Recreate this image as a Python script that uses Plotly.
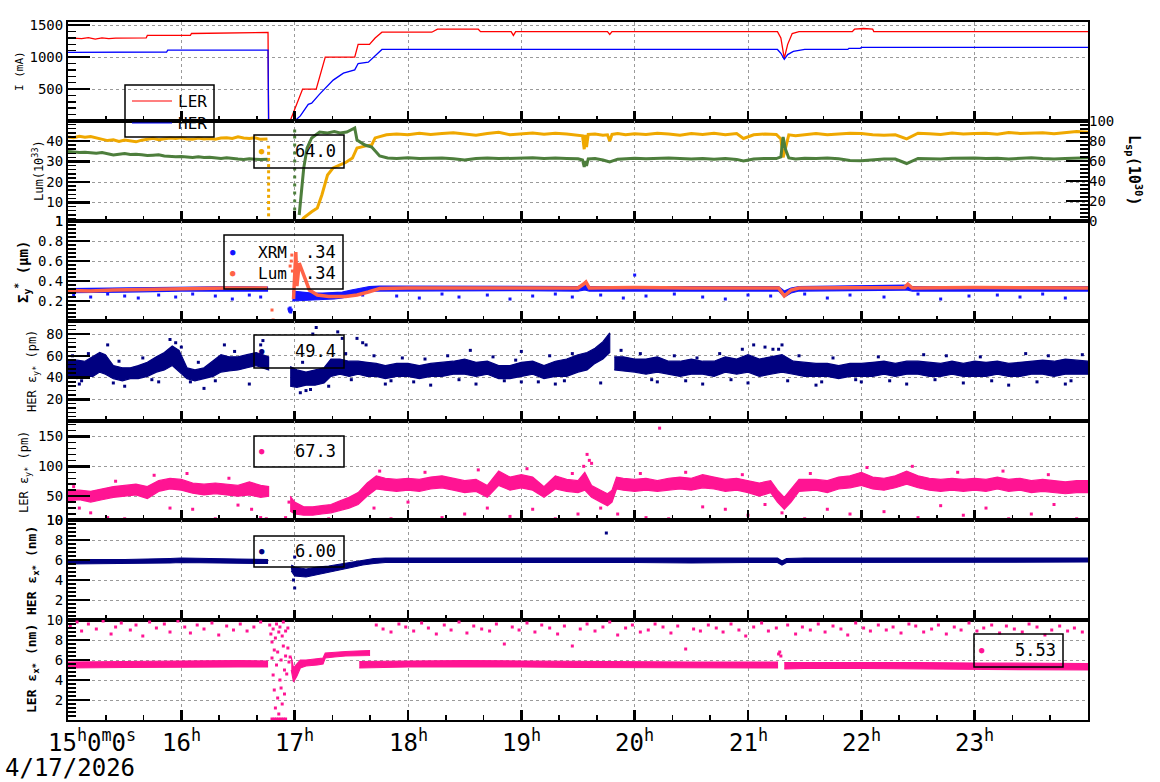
import numpy as np
import plotly.graph_objects as go

FONT = "DejaVu Sans Mono"

# ---------------- data ----------------
HOURS = [15, 16, 17, 18, 19, 20, 21, 22, 23, 24]
HOUR_LABELS = ["15<sup>h</sup>0<sup>m</sup>0<sup>s</sup>", "16<sup>h</sup>", "17<sup>h</sup>", "18<sup>h</sup>",
               "19<sup>h</sup>", "20<sup>h</sup>", "21<sup>h</sup>", "22<sup>h</sup>", "23<sup>h</sup>"]
DATE_LABEL = "4/17/2026"

# Panel 1: beam currents (mA)
ler_t = [15.00, 15.06, 15.12, 15.18, 15.24, 15.30, 15.36, 15.42, 15.50, 15.69,
         15.70, 16.08, 16.09, 16.58, 16.59, 16.765, 16.77, 16.96, 17.07, 17.19,
         17.27, 17.53, 17.56, 17.66, 17.71, 17.77, 18.21, 18.26, 18.62, 18.64,
         18.91, 18.93, 18.95, 19.76, 19.78, 19.80, 21.26, 21.29, 21.32, 21.35,
         21.39, 21.45, 21.92, 21.94, 22.02, 22.10, 22.11, 24.00]
ler_mA = [1300, 1295, 1290, 1305, 1282, 1300, 1290, 1298, 1300, 1300,
          1340, 1340, 1370, 1375, 1386, 1386, 0, 0, 500, 500,
          1000, 1000, 1200, 1200, 1300, 1390, 1390, 1437, 1437, 1400,
          1400, 1340, 1400, 1400, 1355, 1400, 1400, 1300, 980, 1200,
          1370, 1400, 1400, 1437, 1448, 1437, 1400, 1400]
her_t = [15.00, 15.79, 15.80, 15.87, 15.88, 16.765, 16.77, 17.00, 17.05, 17.12,
         17.15, 17.22, 17.34, 17.43, 17.53, 17.56, 17.65, 17.71, 17.77, 21.26,
         21.29, 21.32, 21.35, 21.40, 21.50, 21.88, 21.89, 21.99, 22.00, 24.00]
her_mA = [1073, 1073, 1080, 1080, 1109, 1109, 0, 0, 80, 260,
          280, 420, 640, 750, 800, 900, 920, 1020, 1120, 1120,
          1060, 965, 1040, 1090, 1120, 1120, 1136, 1136, 1152, 1152]

# Panel 2: luminosity (1e33) and specific luminosity (1e30)
lum_t = [15.00, 15.05, 15.10, 15.15, 15.20, 15.25, 15.30, 15.35, 15.40, 15.45,
         15.50, 15.55, 15.60, 15.65, 15.70, 15.75, 15.80, 15.85, 15.90, 15.95,
         16.00, 16.05, 16.10, 16.15, 16.20, 16.25, 16.30, 16.35, 16.40, 16.45,
         16.50, 16.55, 16.60, 16.65, 16.70, 16.76, None, 16.77, 17.06, 17.08,
         17.11, 17.15, 17.20, 17.24, 17.29, 17.34, 17.40, 17.45, 17.51, 17.55,
         17.62, 17.68, 17.71, 17.75, 17.81, 17.90, 18.00, 18.10, 18.20, 18.30,
         18.40, 18.50, 18.60, 18.70, 18.80, 18.90, 19.00, 19.10, 19.20, 19.30,
         19.40, 19.50, 19.54, 19.555, 19.565, 19.575, 19.59, 19.65, 19.72, 19.76,
         19.78, 19.80, 19.85, 19.92, 20.00, 20.10, 20.20, 20.30, 20.40, 20.50,
         20.60, 20.70, 20.80, 20.90, 20.96, 21.05, 21.15, 21.25, 21.29, 21.31,
         21.33, 21.36, 21.42, 21.50, 21.60, 21.70, 21.80, 21.90, 22.00, 22.10,
         22.20, 22.30, 22.40, 22.50, 22.60, 22.70, 22.80, 22.90, 23.00, 23.10,
         23.20, 23.30, 23.40, 23.50, 23.60, 23.70, 23.80, 23.90, 24.00]
lum_v = [42.0, 41.6, 42.3, 41.8, 42.2, 41.5, 41.0, 40.2, 40.6, 39.8,
         40.5, 40.0, 39.6, 40.4, 40.8, 41.3, 40.6, 41.0, 41.5, 41.2,
         41.6, 41.0, 40.8, 41.4, 41.0, 41.2, 40.9, 41.5, 41.6, 41.2,
         42.0, 41.5, 41.2, 41.6, 40.8, 41.0, None, 1.0, 1.0, 2.5,
         3.9, 5.5, 7.3, 13.7, 23.4, 26.9, 28.3, 29.5, 31.7, 36.6,
         37.5, 38.1, 41.5, 42.2, 43.0, 43.4, 43.0, 43.8, 43.2, 43.6,
         44.0, 43.4, 42.8, 43.6, 44.2, 43.0, 43.5, 43.9, 43.3, 43.8,
         43.4, 43.0, 42.5, 36.0, 43.0, 37.0, 43.2, 43.4, 42.8, 43.0,
         40.0, 43.2, 43.6, 43.0, 43.5, 43.2, 43.8, 43.4, 42.8, 43.6,
         43.2, 43.8, 43.0, 43.6, 41.2, 43.0, 43.4, 43.2, 41.0, 32.0,
         36.0, 43.0, 42.6, 43.2, 43.6, 43.0, 43.4, 43.8, 43.6, 43.0,
         42.8, 43.0, 41.0, 43.8, 43.5, 43.2, 43.9, 43.4, 43.6, 43.8,
         43.3, 44.1, 43.7, 43.9, 44.0, 43.5, 44.2, 44.6, 44.3]
lum_drop_t = [16.77] * 12
lum_drop_v = [37, 34, 31, 28, 25, 22, 19, 16, 13, 10, 7, 4]

lsp_t = [15.00, 15.05, 15.10, 15.15, 15.20, 15.25, 15.30, 15.35, 15.40, 15.45,
         15.50, 15.55, 15.60, 15.65, 15.70, 15.75, 15.80, 15.85, 15.90, 15.95,
         16.00, 16.05, 16.10, 16.15, 16.20, 16.25, 16.30, 16.35, 16.40, 16.45,
         16.50, 16.55, 16.60, 16.65, 16.70, 16.76, None, 16.77, 17.00, None,
         17.04, 17.08, 17.11, 17.15, 17.22, 17.29, 17.35, 17.40, 17.46, 17.51,
         17.53, 17.55, 17.62, 17.68, 17.75, 17.82, 17.90, 18.00, 18.10, 18.20,
         18.30, 18.40, 18.50, 18.60, 18.70, 18.80, 18.90, 19.00, 19.10, 19.20,
         19.30, 19.40, 19.50, 19.54, 19.555, 19.565, 19.575, 19.59, 19.65, 19.72,
         19.78, 19.85, 19.92, 20.00, 20.10, 20.20, 20.30, 20.40, 20.50, 20.60,
         20.70, 20.80, 20.90, 20.96, 21.05, 21.15, 21.25, 21.29, 21.31, 21.33,
         21.36, 21.42, 21.50, 21.60, 21.70, 21.80, 21.90, 22.00, 22.10, 22.20,
         22.30, 22.40, 22.50, 22.60, 22.70, 22.80, 22.90, 23.00, 23.10, 23.20,
         23.30, 23.40, 23.50, 23.60, 23.70, 23.80, 23.90, 24.00]
lsp_v = [69.5, 69.0, 68.6, 68.8, 68.2, 67.8, 68.4, 67.0, 66.0, 66.8,
         67.4, 66.5, 66.8, 66.2, 65.4, 65.8, 66.2, 65.0, 64.6, 64.2,
         64.6, 64.0, 63.6, 64.2, 63.4, 63.8, 63.0, 62.6, 63.2, 62.4,
         62.0, 61.6, 62.2, 61.8, 61.4, 61.8, None, 0.5, 0.5, None,
         6.0, 53.0, 73.0, 83.0, 89.0, 88.0, 89.5, 88.0, 89.0, 92.0,
         93.0, 81.0, 76.0, 74.0, 65.0, 63.0, 62.6, 63.2, 62.4, 62.8,
         63.0, 62.2, 61.0, 62.6, 63.0, 62.4, 62.8, 62.6, 63.2, 62.4,
         63.0, 62.6, 62.2, 61.0, 54.0, 60.0, 55.0, 62.0, 62.4, 61.0,
         59.0, 61.8, 62.4, 62.8, 62.2, 62.6, 63.0, 62.4, 62.0, 62.6,
         61.8, 62.4, 61.6, 60.0, 62.0, 62.6, 62.4, 64.0, 84.0, 72.0,
         63.0, 62.0, 62.8, 62.4, 63.0, 62.2, 60.5, 60.2, 61.4, 62.0,
         62.0, 57.5, 62.6, 62.4, 62.0, 62.8, 63.2, 63.0, 62.4, 62.8,
         62.0, 62.6, 63.2, 62.4, 62.0, 62.6, 63.0, 63.2]
lsp_rise_t = [17.0] * 12
lsp_rise_v = [5, 12, 20, 28, 36, 44, 52, 60, 68, 76, 84, 90]

# Panel 3: vertical beam size (um)
xrm_t = [15.00, 15.50, 16.00, 16.50, 16.76, None, 16.98, 17.05, 17.15, 17.25,
         17.35, 17.42, 17.50, 17.58, 17.66, 17.75, 18.00, 18.50, 19.00, 19.50,
         19.56, 19.60, 20.00, 20.50, 21.00, 21.27, 21.32, 21.38, 21.45, 22.00,
         22.40, 22.45, 23.00, 23.50, 24.00]
xrm_lo = [0.285, 0.29, 0.30, 0.30, 0.30, None, 0.20, 0.20, 0.21, 0.215,
          0.22, 0.23, 0.25, 0.28, 0.30, 0.30, 0.305, 0.305, 0.305, 0.30,
          0.31, 0.30, 0.30, 0.305, 0.30, 0.30, 0.24, 0.28, 0.30, 0.305,
          0.31, 0.30, 0.30, 0.30, 0.30]
xrm_hi = [0.325, 0.33, 0.34, 0.345, 0.34, None, 0.30, 0.29, 0.28, 0.28,
          0.285, 0.29, 0.31, 0.33, 0.345, 0.35, 0.35, 0.345, 0.35, 0.345,
          0.37, 0.345, 0.345, 0.345, 0.345, 0.345, 0.30, 0.33, 0.345, 0.35,
          0.36, 0.345, 0.345, 0.345, 0.345]
xrm_out_t = [15.05, 15.20, 15.35, 15.50, 15.62, 15.80, 15.95, 16.10, 16.30, 16.45,
             16.60, 16.70, 16.95, 16.955, 16.96, 16.965, 16.97, 17.60, 17.90, 18.10,
             18.30, 18.45, 18.70, 18.90, 19.10, 19.30, 19.45, 19.70, 19.90, 20.00,
             20.10, 20.35, 20.60, 20.80, 21.00, 21.20, 21.50, 21.70, 21.90, 22.20,
             22.50, 22.70, 22.95, 23.20, 23.40, 23.60, 23.80]
xrm_out_v = [0.26, 0.24, 0.27, 0.25, 0.23, 0.26, 0.24, 0.27, 0.25, 0.22,
             0.26, 0.24, 0.12, 0.10, 0.13, 0.09, 0.11, 0.26, 0.25, 0.23,
             0.27, 0.24, 0.26, 0.22, 0.25, 0.27, 0.24, 0.26, 0.23, 0.46,
             0.25, 0.27, 0.24, 0.22, 0.26, 0.25, 0.27, 0.23, 0.26, 0.24,
             0.27, 0.22, 0.25, 0.26, 0.24, 0.27, 0.23]
lums_t = [15.00, 15.20, 15.40, 15.60, 15.80, 16.00, 16.20, 16.40, 16.60, 16.76,
          None, 16.99, 17.00, 17.005, 17.01, 17.02, 17.04, 17.07, 17.10, 17.13,
          17.20, 17.30, 17.45, 17.55, 17.65, 17.75, 18.00, 18.50, 19.00, 19.50,
          19.55, 19.57, 19.60, 20.00, 20.50, 21.00, 21.27, 21.32, 21.38, 21.45,
          22.00, 22.38, 22.41, 22.45, 23.00, 23.50, 24.00]
lums_v = [0.305, 0.30, 0.31, 0.315, 0.32, 0.325, 0.325, 0.33, 0.33, 0.33,
          None, 0.22, 0.45, 0.62, 0.69, 0.35, 0.58, 0.49, 0.39, 0.31,
          0.26, 0.245, 0.245, 0.26, 0.29, 0.325, 0.33, 0.33, 0.335, 0.33,
          0.37, 0.39, 0.33, 0.335, 0.33, 0.335, 0.33, 0.25, 0.31, 0.33,
          0.335, 0.335, 0.37, 0.33, 0.335, 0.33, 0.33]
lums_out_t = [16.80, 16.81, 16.96, 16.97, 16.975, 16.98, 17.03]
lums_out_v = [0.11, 0.01, 0.55, 0.60, 0.66, 0.50, 0.52]

# Panel 4: HER vertical emittance (pm): dense band envelope
hey_t = [15.00, 15.08, 15.15, 15.22, 15.28, 15.33, 15.40, 15.48, 15.55, 15.62,
         15.70, 15.78, 15.85, 15.92, 15.98, 16.05, 16.12, 16.20, 16.28, 16.35,
         16.42, 16.50, 16.58, 16.66, 16.72, 16.77, None, 16.96, 17.02, 17.10,
         17.18, 17.26, 17.32, 17.40, 17.48, 17.56, 17.64, 17.72, 17.80, 17.90,
         18.00, 18.10, 18.20, 18.30, 18.40, 18.50, 18.60, 18.70, 18.80, 18.90,
         19.00, 19.10, 19.20, 19.30, 19.40, 19.50, 19.58, 19.65, 19.72, 19.78,
         None, 19.82, 19.90, 20.00, 20.10, 20.20, 20.30, 20.40, 20.50, 20.60,
         20.70, 20.80, 20.90, 21.00, 21.10, 21.20, 21.30, 21.40, 21.50, 21.60,
         21.70, 21.80, 21.90, 22.00, 22.10, 22.20, 22.30, 22.40, 22.50, 22.60,
         22.70, 22.80, 22.90, 23.00, 23.10, 23.20, 23.30, 23.40, 23.50, 23.60,
         23.70, 23.80, 23.90, 24.00]
hey_lo = [40, 39, 41, 41, 45, 43, 39, 37, 39, 39,
          41, 45, 47, 51, 45, 39, 37, 39, 41, 45,
          46, 47, 49, 51, 49, 47, None, 32, 31, 33,
          33, 35, 41, 43, 41, 43, 41, 41, 39, 41,
          41, 39, 41, 41, 43, 43, 41, 43, 39, 39,
          41, 43, 39, 41, 41, 45, 47, 53, 57, 63,
          None, 47, 46, 45, 43, 45, 43, 41, 43, 43,
          41, 45, 43, 45, 41, 43, 45, 43, 41, 41,
          41, 39, 41, 41, 41, 43, 41, 43, 43, 41,
          41, 43, 41, 41, 41, 43, 41, 41, 43, 43,
          41, 43, 43, 43]
hey_hi = [56, 56, 55, 59, 63, 61, 51, 49, 49, 51,
          54, 59, 63, 69, 65, 49, 47, 49, 55, 61,
          59, 59, 61, 63, 61, 59, None, 50, 47, 45,
          47, 49, 57, 57, 55, 55, 54, 53, 51, 53,
          53, 51, 53, 54, 55, 57, 54, 55, 51, 51,
          54, 55, 51, 55, 57, 61, 63, 67, 73, 81,
          None, 59, 59, 57, 57, 59, 55, 55, 57, 55,
          55, 59, 57, 61, 57, 59, 61, 55, 54, 53,
          53, 51, 53, 53, 54, 55, 53, 55, 55, 54,
          53, 55, 53, 55, 54, 55, 53, 54, 55, 56,
          55, 57, 56, 55]
hey_out_t = [15.35, 15.90, 15.95, 16.38, 16.70, 16.72, 17.16, 17.19, 17.38, 17.42,
             17.55, 17.60, 17.63, 18.55, 19.00, 20.95, 21.05, 21.15, 21.27, 21.30,
             15.10, 15.50, 15.80, 16.20, 16.60, 17.05, 17.10, 17.30, 17.80, 18.20,
             18.60, 19.00, 19.30, 19.70, 20.20, 20.60, 21.00, 21.60, 22.00, 22.40,
             22.90, 23.30, 23.80,
             15.04, 15.18, 15.45, 15.66, 16.00, 16.15, 16.47, 17.07, 17.45, 17.70,
             17.95, 18.15, 18.35, 18.75, 18.95, 19.25, 19.45, 19.88, 20.05, 20.35,
             20.55, 20.75, 21.22, 21.45, 21.75, 22.15, 22.55, 22.75, 23.05, 23.45,
             23.65, 23.95,
             15.12, 15.40, 15.74, 16.08, 16.30, 17.14, 17.50, 17.85, 18.05, 18.45,
             18.85, 19.15, 19.38, 20.15, 20.45, 20.85, 21.35, 21.65, 21.95, 22.25,
             22.65, 23.15, 23.55, 23.85]
hey_out_v = [70, 75, 72, 70, 70, 74, 80, 86, 82, 76,
             76, 72, 70, 65, 64, 66, 70, 68, 66, 70,
             34, 32, 36, 30, 34, 26, 28, 32, 34, 33,
             34, 36, 34, 35, 36, 34, 35, 33, 36, 34,
             35, 33, 34,
             60, 62, 55, 58, 68, 54, 64, 54, 62, 60,
             58, 57, 60, 59, 56, 60, 62, 65, 62, 60,
             58, 62, 66, 60, 58, 59, 61, 60, 59, 62,
             60, 61,
             37, 35, 38, 36, 37, 29, 38, 37, 36, 38,
             37, 36, 37, 38, 37, 38, 37, 36, 38, 37,
             38, 37, 36, 37]

# Panel 5: LER vertical emittance (pm)
ley_t = [15.00, 15.10, 15.20, 15.30, 15.40, 15.50, 15.60, 15.70, 15.80, 15.90,
         16.00, 16.10, 16.20, 16.30, 16.40, 16.50, 16.60, 16.70, 16.77, None,
         16.96, 17.00, 17.08, 17.16, 17.24, 17.32, 17.40, 17.48, 17.56, 17.64,
         17.72, 17.80, 17.90, 18.00, 18.10, 18.20, 18.30, 18.40, 18.50, 18.60,
         18.70, 18.80, 18.90, 19.00, 19.10, 19.20, 19.30, 19.40, 19.50, 19.56,
         19.62, 19.70, 19.76, 19.80, 19.84, 19.90, 20.00, 20.10, 20.20, 20.30,
         20.40, 20.50, 20.60, 20.70, 20.80, 20.90, 21.00, 21.10, 21.20, 21.26,
         21.32, 21.38, 21.45, 21.60, 21.70, 21.80, 21.90, 22.00, 22.10, 22.20,
         22.30, 22.40, 22.50, 22.60, 22.70, 22.80, 22.90, 23.00, 23.10, 23.20,
         23.30, 23.40, 23.50, 23.60, 23.70, 23.80, 23.90, 24.00]
ley_lo = [42, 44, 40, 44, 48, 50, 52, 46, 58, 62,
          60, 55, 52, 54, 52, 50, 52, 48, 50, None,
          25, 20, 18, 18, 20, 22, 26, 30, 36, 50,
          62, 60, 58, 60, 58, 62, 64, 60, 56, 58,
          48, 68, 60, 64, 60, 48, 62, 58, 56, 60,
          48, 40, 34, 40, 62, 60, 58, 60, 58, 60,
          62, 60, 64, 62, 58, 60, 56, 50, 56, 40,
          28, 40, 58, 60, 56, 62, 64, 68, 62, 60,
          64, 70, 64, 60, 58, 60, 58, 60, 58, 62,
          58, 60, 56, 58, 56, 54, 56, 56]
ley_hi = [60, 60, 58, 62, 66, 68, 70, 66, 76, 80,
          78, 72, 70, 72, 70, 68, 74, 68, 66, None,
          50, 40, 32, 32, 34, 36, 42, 48, 56, 72,
          84, 80, 78, 80, 78, 82, 84, 80, 76, 78,
          68, 92, 82, 86, 82, 66, 84, 78, 76, 90,
          68, 60, 54, 60, 82, 80, 78, 80, 76, 80,
          82, 80, 86, 82, 78, 80, 76, 72, 76, 60,
          48, 62, 78, 78, 76, 82, 84, 90, 82, 80,
          84, 92, 84, 80, 78, 80, 78, 80, 78, 82,
          78, 80, 76, 78, 76, 74, 76, 76]
ley_out_t = [15.10, 15.20, 15.35, 15.50, 15.90, 16.10, 16.30, 16.50, 16.62, 16.70,
             16.75, 16.92, 16.95, 17.30, 17.70, 17.85, 18.00, 18.30, 18.50, 18.70,
             18.90, 19.10, 19.30, 19.50, 19.55, 19.58, 19.60, 19.62, 19.70, 19.85,
             20.10, 20.22, 20.30, 20.60, 20.80, 21.00, 21.15, 21.30, 21.50, 21.70,
             21.90, 22.00, 22.20, 22.50, 22.70, 22.90, 23.10, 23.30, 23.50, 23.70,
             23.90,
             15.05, 15.42, 15.76, 16.05, 16.42, 17.75, 18.15, 18.62, 19.05, 19.45,
             20.05, 20.45, 20.95, 21.55, 22.05, 22.45, 22.85, 23.25, 23.65]
ley_out_v = [30, 22, 14, 12, 30, 28, 12, 35, 28, 14,
             12, 14, 40, 12, 30, 12, 40, 14, 20, 30,
             16, 28, 12, 20, 100, 120, 110, 105, 30, 20,
             14, 164, 12, 32, 28, 18, 36, 22, 12, 28,
             20, 12, 24, 14, 34, 18, 30, 12, 20, 36,
             12,
             66, 75, 85, 88, 80, 92, 90, 94, 96, 88,
             88, 90, 86, 88, 98, 100, 90, 92, 86]

# Panel 6: HER horizontal emittance (nm)
hex_t = [15.00, 15.50, 15.90, 16.00, 16.50, 16.76, None, 16.97, 17.00, 17.10,
         17.20, 17.30, 17.40, 17.50, 17.60, 17.70, 17.80, 18.50, 19.00, 19.50,
         20.00, 20.50, 21.00, 21.26, 21.30, 21.34, 21.50, 22.00, 22.50, 23.00,
         23.50, 24.00]
hex_lo = [5.6, 5.65, 5.7, 5.75, 5.7, 5.65, None, 4.9, 4.4, 4.3,
          4.5, 4.75, 5.0, 5.25, 5.5, 5.65, 5.75, 5.75, 5.75, 5.75,
          5.75, 5.7, 5.75, 5.75, 5.5, 5.75, 5.75, 5.8, 5.75, 5.8,
          5.8, 5.8]
hex_hi = [6.05, 6.05, 6.15, 6.2, 6.1, 6.05, None, 5.5, 5.3, 5.1,
          5.3, 5.4, 5.6, 5.8, 5.95, 6.15, 6.2, 6.2, 6.2, 6.2,
          6.15, 6.15, 6.2, 6.2, 5.9, 6.15, 6.2, 6.2, 6.15, 6.2,
          6.2, 6.2]
hex_out_t = [16.98, 16.99, 17.00, 17.00, 19.75]
hex_out_v = [5.2, 4.0, 3.2, 6.3, 8.7]

# Panel 7: LER horizontal emittance (nm)
lex_t = [15.00, 15.50, 16.00, 16.50, 16.76, None, 16.97, 16.99, 17.02, 17.05,
         17.10, 17.20, 17.25, 17.27, 17.35, 17.45, 17.55, 17.66, None, 17.57,
         18.00, 18.50, 19.00, 19.50, 20.00, 20.50, 21.00, 21.26, None, 21.32,
         21.50, 22.00, 22.50, 23.00, 23.50, 24.00]
lex_lo = [5.2, 5.25, 5.3, 5.3, 5.3, None, 5.0, 3.8, 4.4, 5.2,
          5.4, 5.5, 5.6, 6.2, 6.3, 6.4, 6.45, 6.45, None, 5.2,
          5.3, 5.3, 5.3, 5.25, 5.25, 5.2, 5.2, 5.2, None, 5.1,
          5.15, 5.15, 5.15, 5.1, 5.05, 5.0]
lex_hi = [5.8, 5.85, 5.9, 5.95, 5.9, None, 6.3, 5.2, 5.6, 6.0,
          6.0, 6.1, 6.2, 6.7, 6.8, 6.85, 6.9, 6.95, None, 5.85,
          5.9, 5.95, 5.9, 5.85, 5.85, 5.8, 5.8, 5.8, None, 5.75,
          5.75, 5.8, 5.75, 5.7, 5.7, 5.65]
lex_out_t = [15.02, 15.08, 15.12, 15.18, 15.25, 15.31, 15.38, 15.42, 15.47, 15.55,
             15.60, 15.66, 15.72, 15.78, 15.85, 15.90, 15.97, 16.03, 16.08, 16.14,
             16.20, 16.27, 16.33, 16.40, 16.46, 16.52, 16.58, 16.64, 16.70, 17.72,
             17.78, 17.85, 17.92, 17.98, 18.05, 18.12, 18.18, 18.25, 18.32, 18.38,
             18.45, 18.52, 18.58, 18.65, 18.72, 18.78, 18.85, 18.92, 18.98, 19.05,
             19.12, 19.18, 19.25, 19.32, 19.38, 19.45, 19.52, 19.58, 19.65, 19.72,
             19.78, 19.85, 19.92, 19.98, 20.05, 20.12, 20.18, 20.25, 20.32, 20.38,
             20.45, 20.52, 20.58, 20.65, 20.72, 20.78, 20.85, 20.92, 20.98, 21.05,
             21.12, 21.18, 21.25, 21.35, 21.42, 21.48, 21.55, 21.62, 21.68, 21.75,
             21.82, 21.88, 21.95, 22.02, 22.08, 22.15, 22.22, 22.28, 22.35, 22.42,
             22.48, 22.55, 22.62, 22.68, 22.75, 22.82, 22.88, 22.95, 23.02, 23.08,
             23.15, 23.22, 23.28, 23.35, 23.42, 23.48, 23.55, 23.62, 23.68, 23.75,
             23.82, 23.88, 23.95, 21.27, 21.28, 21.29]
lex_out_v = [9.4, 9.8, 8.9, 9.6, 9.1, 9.9, 8.6, 9.3, 9.7, 9.0,
             9.5, 8.4, 9.8, 9.2, 9.6, 8.8, 9.9, 9.3, 8.7, 9.5,
             9.1, 9.7, 8.5, 9.4, 9.0, 9.6, 8.9, 9.3, 9.8, 9.5,
             9.1, 8.8, 9.6, 9.3, 8.9, 9.7, 9.2, 8.6, 9.5, 9.0,
             9.8, 8.7, 9.4, 9.1, 8.9, 9.6, 7.6, 9.3, 9.0, 9.7,
             8.8, 9.5, 9.2, 8.6, 9.4, 7.4, 9.1, 9.6, 8.9, 9.3,
             9.8, 8.5, 9.2, 9.5, 8.8, 9.0, 9.6, 9.3, 8.7, 9.4,
             7.1, 9.1, 8.9, 9.5, 9.2, 8.8, 9.6, 9.0, 8.4, 9.3,
             9.7, 8.9, 9.2, 9.5, 8.6, 9.3, 9.0, 9.6, 8.8, 9.4,
             9.1, 8.5, 9.7, 9.2, 8.9, 9.5, 9.0, 9.3, 8.7, 9.6,
             9.4, 8.8, 9.1, 9.5, 8.6, 9.3, 9.0, 9.7, 8.9, 9.2,
             9.5, 8.7, 9.4, 9.1, 8.8, 9.6, 9.3, 8.5, 9.0, 9.4,
             8.9, 9.2, 8.8, 6.6, 6.8, 6.4]
lex_gap_t = [16.78, 16.79, 16.80, 16.80, 16.81, 16.81, 16.82, 16.82, 16.83, 16.83,
             16.84, 16.84, 16.85, 16.85, 16.86, 16.86, 16.87, 16.87, 16.88, 16.88,
             16.89, 16.89, 16.90, 16.90, 16.91, 16.91, 16.92, 16.92, 16.93, 16.94,
             16.94, 16.95, 16.96, 16.80, 16.82, 16.84, 16.86, 16.88, 16.90, 16.92]
lex_gap_v = [9.5, 8.6, 7.8, 6.2, 4.5, 9.1, 3.0, 7.0, 1.2, 8.2,
             5.5, 9.6, 2.2, 6.8, 0.6, 8.8, 4.0, 9.3, 6.0, 3.2,
             8.4, 1.6, 7.4, 9.8, 5.0, 2.6, 8.9, 6.4, 4.6, 9.2,
             7.2, 5.8, 6.3, 0.1, 0.1, 0.1, 0.1, 0.1, 0.1, 0.1]

LEGEND_VALUES = ["64.0", ".34", ".34", "49.4", "67.3", "6.00", "5.53"]

for a, b in [(ler_t, ler_mA), (her_t, her_mA), (lum_t, lum_v), (lsp_t, lsp_v),
             (xrm_t, xrm_lo), (xrm_t, xrm_hi), (xrm_out_t, xrm_out_v), (lums_t, lums_v),
             (hey_t, hey_lo), (hey_t, hey_hi), (hey_out_t, hey_out_v),
             (ley_t, ley_lo), (ley_t, ley_hi), (ley_out_t, ley_out_v),
             (hex_t, hex_lo), (hex_t, hex_hi), (lex_t, lex_lo), (lex_t, lex_hi),
             (lex_out_t, lex_out_v), (lex_gap_t, lex_gap_v)]:
    assert len(a) == len(b), (len(a), len(b))

# ---------------- colours ----------------
RED, BLUE = "#ff0000", "#0000ff"
ORANGE, GREEN = "#efa800", "#4d7e3c"
XRM_BLUE, TOMATO = "#1414ff", "#ff6347"
NAVY, PINK = "#000080", "#ff1493"

# ---------------- layout geometry ----------------
W, H = 1160, 782
L, T = 68, 22
PW, PH = 1020, 698
MARGIN = dict(l=L, t=T, r=W - L - PW, b=H - T - PH)
BOUNDS = [22, 121, 221, 321, 421, 520, 620, 720]


def PX(x):
    return (x - L) / PW


def PY(y):
    return (T + PH - y) / PH


fig = go.Figure()


def band(t, lo, hi, color, k):
    xs, ys, seg = [], [], []

    def flush():
        if seg:
            xs.extend([s[0] for s in seg] + [s[0] for s in reversed(seg)] + [None])
            ys.extend([s[2] for s in seg] + [s[1] for s in reversed(seg)] + [None])
            seg.clear()
    for a, b, c in zip(t, lo, hi):
        if a is None:
            flush()
        else:
            seg.append((a, b, c))
    flush()
    fig.add_trace(go.Scatter(x=xs, y=ys, mode="lines", fill="toself", fillcolor=color,
                             line=dict(color=color, width=1.2), xaxis=f"x{k}", yaxis=f"y{k}",
                             showlegend=False, hoverinfo="skip"))


def line(t, v, color, k, width, yaxis=None):
    fig.add_trace(go.Scatter(x=t, y=v, mode="lines", line=dict(color=color, width=width),
                             xaxis=f"x{k}", yaxis=yaxis or f"y{k}", showlegend=False,
                             connectgaps=False))


def dots(t, v, color, k, size=3, yaxis=None):
    fig.add_trace(go.Scatter(x=t, y=v, mode="markers",
                             marker=dict(color=color, size=size, symbol="square", line=dict(width=0)),
                             xaxis=f"x{k}", yaxis=yaxis or f"y{k}", showlegend=False, cliponaxis=True))


# panel 1
line(ler_t, ler_mA, RED, 1, 1.3)
line(her_t, her_mA, BLUE, 1, 1.3)
# panel 2
line(lum_t, lum_v, ORANGE, 2, 3)
dots(lum_drop_t, lum_drop_v, ORANGE, 2, 3)
line(lsp_t, lsp_v, GREEN, 2, 3, yaxis="y8")
dots(lsp_rise_t, lsp_rise_v, GREEN, 2, 3, yaxis="y8")
# panel 3
band(xrm_t, xrm_lo, xrm_hi, XRM_BLUE, 3)
dots(xrm_out_t, xrm_out_v, XRM_BLUE, 3)
line(lums_t, lums_v, TOMATO, 3, 3.5)
dots(lums_out_t, lums_out_v, TOMATO, 3)
# panel 4
band(hey_t, hey_lo, hey_hi, NAVY, 4)
dots(hey_out_t, hey_out_v, NAVY, 4)
# panel 5
band(ley_t, ley_lo, ley_hi, PINK, 5)
dots(ley_out_t, ley_out_v, PINK, 5)
# panel 6
band(hex_t, hex_lo, hex_hi, NAVY, 6)
dots(hex_out_t, hex_out_v, NAVY, 6)
# panel 7
band(lex_t, lex_lo, lex_hi, PINK, 7)
dots(lex_out_t, lex_out_v, PINK, 7)
dots(lex_gap_t, lex_gap_v, PINK, 7)

# ---------------- axes ----------------
YSPEC = [
    dict(range=[0, 1550], tickvals=[500, 1000, 1500], ticktext=["500", "1000", "1500"], minor=list(range(100, 1550, 100))),
    dict(range=[0.99, 49.75], tickvals=[1, 10, 20, 30, 40], ticktext=["1", "10", "20", "30", "40"], minor=list(np.arange(2, 50, 2))),
    dict(range=[0, 1.001], tickvals=[0.2, 0.4, 0.6, 0.8, 1.0], ticktext=["0.2", "0.4", "0.6", "0.8", "1"], minor=list(np.arange(0.04, 1.0, 0.04))),
    dict(range=[0, 92], tickvals=[20, 40, 60, 80], ticktext=["20", "40", "60", "80"], minor=list(range(4, 92, 4))),
    dict(range=[9.99, 176], tickvals=[10, 50, 100, 150], ticktext=["10", "50", "100", "150"], minor=list(range(20, 176, 10))),
    dict(range=[0, 10.001], tickvals=[2, 4, 6, 8, 10], ticktext=["2", "4", "6", "8", "10"], minor=list(np.arange(0.4, 10, 0.4))),
    dict(range=[0, 10.001], tickvals=[2, 4, 6, 8, 10], ticktext=["2", "4", "6", "8", "10"], minor=list(np.arange(0.4, 10, 0.4))),
]
GRID = dict(gridcolor="#9a9a9a", gridwidth=1, griddash="3px,3px")
minor_x = [h + f / 3 for h in range(15, 24) for f in (1, 2)]

layout = dict(width=W, height=H, autosize=False, margin=MARGIN,
              paper_bgcolor="white", plot_bgcolor="white", showlegend=False,
              font=dict(family=FONT, size=14, color="black"))
for i, spec in enumerate(YSPEC):
    k = i + 1
    sfx = "" if k == 1 else str(k)
    top, bot = BOUNDS[i], BOUNDS[i + 1]
    layout["xaxis" + sfx] = dict(domain=[0, 1], anchor="y" + sfx, range=[15, 24], tickmode="array",
                                 tickvals=HOURS, showticklabels=False, ticks="inside", ticklen=10,
                                 tickwidth=2.5, tickcolor="black",
                                 minor=dict(tickmode="array", tickvals=minor_x, ticks="inside", ticklen=5,
                                            tickwidth=1.5, tickcolor="black", showgrid=False),
                                 showgrid=True, **GRID, showline=True, linecolor="black", linewidth=2,
                                 mirror=True, zeroline=False, fixedrange=True)
    layout["yaxis" + sfx] = dict(domain=[PY(bot), PY(top)], anchor="x" + sfx, range=spec["range"],
                                 tickmode="array", tickvals=spec["tickvals"], ticktext=spec["ticktext"],
                                 ticks="inside", ticklen=22, tickwidth=2.5, tickcolor="black",
                                 minor=dict(tickmode="array", tickvals=spec["minor"], ticks="inside",
                                            ticklen=8, tickwidth=1.5, tickcolor="black", showgrid=False),
                                 showgrid=True, **GRID, showline=True, linecolor="black", linewidth=2,
                                 mirror=True, zeroline=False, tickfont=dict(family=FONT, size=14),
                                 fixedrange=True)
layout["yaxis8"] = dict(overlaying="y2", anchor="x2", side="right", range=[0, 100], tickmode="array",
                        tickvals=[0, 20, 40, 60, 80, 100], ticks="inside", ticklen=22, tickwidth=2.5,
                        tickcolor="black",
                        minor=dict(tickmode="array", tickvals=list(range(4, 100, 4)), ticks="inside",
                                   ticklen=8, tickwidth=1.5, tickcolor="black", showgrid=False),
                        showgrid=False, zeroline=False, showline=False, tickfont=dict(family=FONT, size=14),
                        fixedrange=True)
fig.update_layout(**layout)

# ---------------- annotations ----------------
ann = []


def text(x, y, s, size, xanchor="center", yanchor="middle", angle=0, color="black"):
    ann.append(dict(x=PX(x), y=PY(y), xref="paper", yref="paper", text=s, showarrow=False,
                    xanchor=xanchor, yanchor=yanchor, textangle=angle, borderpad=0,
                    font=dict(family=FONT, size=size, color=color)))


# x tick labels
for h, lab in zip(HOURS[:-1], HOUR_LABELS):
    if h == 15:
        text(47, 741, lab, 24, xanchor="left")
    else:
        text(L + (h - 15) * PW / 9, 741, lab, 24)
text(4, 768.5, DATE_LABEL, 24, xanchor="left")

# y titles
text(20, 71, "I (mA)", 11, angle=-90)
text(38, 171, "Lum(10<sup>33</sup>)", 12, angle=-90)
text(23, 272, "<b>Σ<sub>y</sub><sup>*</sup> (μm)</b>", 14, angle=-90)
text(33, 371, "HER ε<sub>y*</sub> (pm)", 12, angle=-90)
text(25, 472, "LER ε<sub>y*</sub> (pm)", 12, angle=-90)
text(32, 571, "<b>HER ε<sub>x*</sub> (nm)</b>", 13, angle=-90)
text(32, 669, "<b>LER ε<sub>x*</sub> (nm)</b>", 13, angle=-90)
text(1135, 170, "<b>L<sub>sp</sub>(10<sup>30</sup>)</b>", 15, angle=90)

shapes = []


def box(x0, y0, x1, y1):
    shapes.append(dict(type="rect", xref="paper", yref="paper", x0=PX(x0), x1=PX(x1), y0=PY(y1), y1=PY(y0),
                       line=dict(color="black", width=1.5), fillcolor="rgba(0,0,0,0)"))


def seg(x0, x1, y, color):
    shapes.append(dict(type="line", xref="paper", yref="paper", x0=PX(x0), x1=PX(x1), y0=PY(y), y1=PY(y),
                       line=dict(color=color, width=1.2)))


# legend panel 1
box(125, 85, 214, 137)
seg(132, 172, 101, RED)
seg(132, 172, 123, BLUE)
text(177, 101, "LER", 16, xanchor="left")
text(177, 123, "HER", 16, xanchor="left")
# value boxes
box(254, 135, 344, 168)
text(262, 151, "●", 9, color=ORANGE)
text(337, 151, LEGEND_VALUES[0], 17, xanchor="right")
box(224, 235, 343, 289)
text(233, 252, "●", 9, color=XRM_BLUE)
text(233, 273, "●", 9, color=TOMATO)
text(257, 252, "XRM", 16, xanchor="left")
text(257, 273, "Lum", 16, xanchor="left")
text(337, 252, LEGEND_VALUES[1], 17, xanchor="right")
text(337, 273, LEGEND_VALUES[2], 17, xanchor="right")
box(254, 335, 344, 368)
text(262, 351, "●", 9, color=NAVY)
text(337, 351, LEGEND_VALUES[3], 17, xanchor="right")
box(254, 436, 344, 467)
text(262, 451, "●", 9, color=PINK)
text(337, 451, LEGEND_VALUES[4], 17, xanchor="right")
box(254, 536, 344, 567)
text(262, 551, "●", 9, color=NAVY)
text(337, 551, LEGEND_VALUES[5], 17, xanchor="right")
box(974, 634, 1063, 667)
text(982, 650, "●", 9, color=PINK)
text(1057, 650, LEGEND_VALUES[6], 17, xanchor="right")

fig.update_layout(annotations=ann, shapes=shapes)
# remove the browser's default 8px body margin so the figure sits at the page origin
fig.write_html("out.html", config={"displayModeBar": False, "staticPlot": True},
               post_script="document.body.style.margin='0px';document.body.style.overflow='hidden';")
